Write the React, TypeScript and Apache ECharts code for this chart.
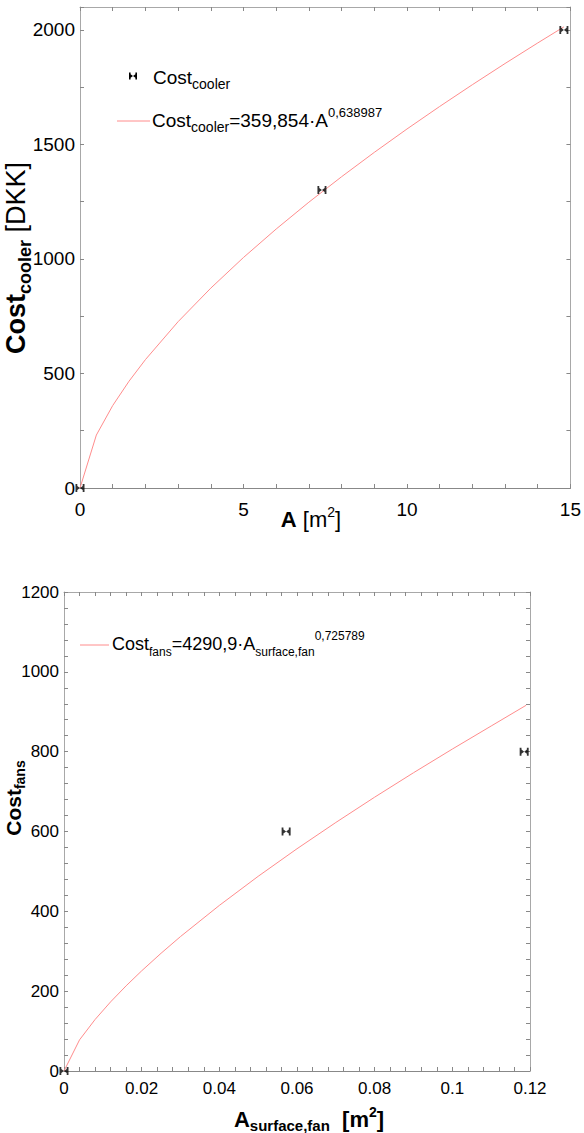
import React, { useEffect, useRef } from "react";
import * as echarts from "echarts";

// Cooler cost measurements and fitted power curve (upper chart)
const coolerArea = [0, 7.4, 14.8];
const coolerCost = [0, 1301, 2000];
const coolerFitArea = [0, 0.5, 1, 1.5, 2, 3, 4, 5, 6, 7, 8, 9, 10, 11, 12, 13, 14, 14.8];
const coolerFitCost = [0, 231.1, 359.9, 466.3, 560.4, 726.1, 872.6, 1006.4, 1130.7, 1247.8, 1358.9, 1465.2, 1567.3, 1665.6, 1760.7, 1853.2, 1943.1, 2013.3];
const coolerAreaTicks = [0, 5, 10, 15];
const coolerCostTicks = [0, 500, 1000, 1500, 2000];

// Fan cost measurements and fitted power curve (lower chart)
const fanArea = [0, 0.0572, 0.1185];
const fanCost = [0, 600, 800];
const fanFitArea = [0, 0.004, 0.008, 0.012, 0.016, 0.02, 0.025, 0.03, 0.04, 0.05, 0.06, 0.07, 0.08, 0.09, 0.1, 0.11, 0.119];
const fanFitCost = [0, 78.0, 129.0, 173.2, 213.4, 250.9, 295.0, 336.8, 414.8, 487.7, 556.8, 622.6, 686.0, 747.2, 806.5, 864.3, 916.2];
const fanAreaTicks = [0, 0.02, 0.04, 0.06, 0.08, 0.1, 0.12];
const fanCostTicks = [0, 200, 400, 600, 800, 1000, 1200];

const FONT = "'Liberation Sans', Arial, sans-serif";
const FIT_COLOR = "#ff8c8c";
const BORDER = "#a8a8a8";
const BOWTIE = "path://M0,0L2,0L2,2.2L5,4.5L8,2.2L8,0L10,0L10,9L8,9L8,6.8L5,4.5L2,6.8L2,9L0,9Z";

const pairs = (xs: number[], ys: number[]) => xs.map((x, i) => [x, ys[i]]);

const tickLabel = (list: number[]) => (v: number) => {
  const hit = list.find((t) => Math.abs(t - v) < 1e-9 + Math.abs(t) * 1e-6);
  return hit === undefined ? "" : String(hit);
};

function valueAxis(
  gridIndex: number,
  position: string,
  min: number,
  max: number,
  interval: number,
  labels: number[] | null,
  fontSize: number,
  margin: number,
  lineColor: string
) {
  return {
    type: "value",
    gridIndex,
    position,
    min,
    max,
    interval,
    splitLine: { show: false },
    axisLine: { show: true, onZero: false, lineStyle: { color: lineColor, width: 1 } },
    axisTick: { show: true, inside: true, length: 4, lineStyle: { color: "#888" } },
    axisLabel: labels
      ? {
          show: true,
          interval: 0,
          hideOverlap: false,
          formatter: tickLabel(labels),
          color: "#000",
          fontFamily: FONT,
          fontSize,
          margin,
        }
      : { show: false },
  };
}

function richStyles(base: number, sub: number, sup: number, baseLine: number, bold: boolean) {
  const w = bold ? "bold" : "normal";
  return {
    t: { fontFamily: FONT, fontSize: base, lineHeight: baseLine, fill: "#000" },
    tb: { fontFamily: FONT, fontSize: base, lineHeight: baseLine, fontWeight: "bold", fill: "#000" },
    s: { fontFamily: FONT, fontSize: sub, lineHeight: sub + 4, verticalAlign: "bottom", fontWeight: w, fill: "#000" },
    sb: { fontFamily: FONT, fontSize: sub, lineHeight: sub + 4, verticalAlign: "bottom", fontWeight: "bold", fill: "#000" },
    p: { fontFamily: FONT, fontSize: sup, lineHeight: sup, verticalAlign: "top", fontWeight: w, fill: "#000" },
    pb: { fontFamily: FONT, fontSize: sup, lineHeight: sup, verticalAlign: "top", fontWeight: "bold", fill: "#000" },
  };
}

function label(x: number, y: number, text: string, rich: any, rotate = false, align = "left") {
  return {
    type: "text",
    x,
    y,
    rotation: rotate ? Math.PI / 2 : 0,
    silent: true,
    style: { text, rich, fontFamily: FONT, fill: "#000", align, verticalAlign: "middle" },
  };
}

function bowtie(cx: number, cy: number) {
  const p = [
    [-4, -3.5], [-2.4, -3.5], [-2.4, -1.7], [0, 0], [2.4, -1.7], [2.4, -3.5], [4, -3.5],
    [4, 3.5], [2.4, 3.5], [2.4, 1.7], [0, 0], [-2.4, 1.7], [-2.4, 3.5], [-4, 3.5],
  ].map(([a, b]) => [cx + a, cy + b]);
  return { type: "polygon", silent: true, shape: { points: p }, style: { fill: "#000" } };
}

function fitLine(x1: number, x2: number, y: number) {
  return {
    type: "line",
    silent: true,
    shape: { x1, y1: y, x2, y2: y },
    style: { stroke: FIT_COLOR, lineWidth: 1 },
  };
}

const coolerLegendRich = richStyles(19, 14, 13, 28, false);
const fanLegendRich = richStyles(18, 12, 12, 28, false);

const option = {
  animation: false,
  backgroundColor: "#fff",
  grid: [
    { left: 80, top: 7, width: 492, height: 481, containLabel: false },
    { left: 64, top: 592, width: 466, height: 479, containLabel: false },
  ],
  xAxis: [
    valueAxis(0, "bottom", 0, 15, 1, coolerAreaTicks, 19, 12, "#888"),
    valueAxis(0, "top", 0, 15, 1, null, 0, 0, BORDER),
    valueAxis(1, "bottom", 0, 0.12, 0.004, fanAreaTicks, 17, 9, "#888"),
    valueAxis(1, "top", 0, 0.12, 0.004, null, 0, 0, BORDER),
  ],
  yAxis: [
    valueAxis(0, "left", 0, 2100, 250, coolerCostTicks, 19, 5, BORDER),
    valueAxis(0, "right", 0, 2100, 250, null, 0, 0, BORDER),
    valueAxis(1, "left", 0, 1200, 40, fanCostTicks, 17, 5, BORDER),
    valueAxis(1, "right", 0, 1200, 40, null, 0, 0, BORDER),
  ],
  series: [
    {
      type: "line",
      xAxisIndex: 0,
      yAxisIndex: 0,
      data: pairs(coolerFitArea, coolerFitCost),
      showSymbol: false,
      lineStyle: { color: FIT_COLOR, width: 1 },
      silent: true,
      z: 2,
    },
    {
      type: "scatter",
      xAxisIndex: 0,
      yAxisIndex: 0,
      data: pairs(coolerArea, coolerCost),
      symbol: BOWTIE,
      symbolSize: [9, 8],
      itemStyle: { color: "#000" },
      z: 3,
    },
    {
      type: "line",
      xAxisIndex: 2,
      yAxisIndex: 2,
      data: pairs(fanFitArea, fanFitCost),
      showSymbol: false,
      lineStyle: { color: FIT_COLOR, width: 1 },
      silent: true,
      z: 2,
    },
    {
      type: "scatter",
      xAxisIndex: 2,
      yAxisIndex: 2,
      data: pairs(fanArea, fanCost),
      symbol: BOWTIE,
      symbolSize: [9, 8],
      itemStyle: { color: "#000" },
      z: 3,
    },
  ],
  graphic: [
    // upper legend
    bowtie(133, 76),
    label(153, 77, "{t|Cost}{s|cooler}", coolerLegendRich),
    fitLine(117, 150, 121),
    label(152, 120, "{t|Cost}{s|cooler}{t|=359,854·A}{p|0,638987}", coolerLegendRich),
    // lower legend
    fitLine(80, 109, 645),
    label(112, 644, "{t|Cost}{s|fans}{t|=4290,9·A}{s|surface,fan}{p|0,725789}", fanLegendRich),
    // upper axis titles
    label(16, 258, "{tb|Cost}{sb|cooler}{t| [DKK]}", richStyles(27, 18, 14, 36, false), true, "center"),
    label(311, 519, "{tb|A}{t| [m}{p|2}{t|]}", richStyles(22, 14, 14, 28, false), false, "center"),
    // lower axis titles
    label(13, 798, "{tb|Cost}{sb|fans}", richStyles(21, 14, 12, 28, true), true, "center"),
    label(309, 1119, "{tb|A}{sb|surface,fan}{tb|  [m}{pb|2}{tb|]}", richStyles(22, 15, 14, 28, true), false, "center"),
  ],
};

export default function App() {
  const ref = useRef<HTMLDivElement>(null);
  useEffect(() => {
    if (!ref.current) return;
    const chart = echarts.init(ref.current, null, { renderer: "svg" });
    chart.setOption(option as any);
    return () => chart.dispose();
  }, []);
  return (
    <div
      ref={ref}
      style={{ position: "absolute", left: 0, top: 0, width: 584, height: 1133, background: "#fff" }}
    />
  );
}
